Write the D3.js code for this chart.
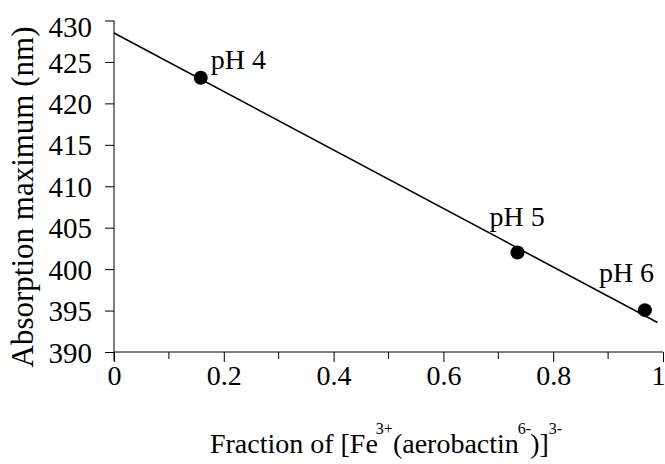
<!DOCTYPE html>
<html>
<head>
<meta charset="utf-8">
<script src="https://cdn.jsdelivr.net/npm/d3@7"></script>
<style>
  body { margin: 0; background: #fff; }
</style>
</head>
<body>
<div id="chart"></div>
<script>
// measured points: fraction of Fe(aerobactin) complex vs absorption max
const fraction = [0.158, 0.735, 0.967];
const absMax = [423.1, 402.0, 395.05];
const phLabels = ["pH 4", "pH 5", "pH 6"];

// linear fit drawn across the plot
const fitX = [0, 0.99];
const fitY = [428.5, 393.55];

const yTicks = [390, 395, 400, 405, 410, 415, 420, 425, 430];
const xMajor = [0, 0.2, 0.4, 0.6, 0.8, 1];
const xMinor = [0.1, 0.3, 0.5, 0.7, 0.9];

const width = 665, height = 464;
const plotL = 114, plotR = 663, plotT = 20.5, plotB = 352;
const serif = "Liberation Serif, Times New Roman, serif";

const svg = d3.select("#chart").append("svg")
    .attr("width", width)
    .attr("height", height)
    .style("font-family", serif);

const x = d3.scaleLinear().domain([0, 1]).range([plotL, plotR]);
const y = d3.scaleLinear().domain([390, 430]).range([plotB, plotT]);

// y axis
const yAxis = svg.append("g")
    .attr("transform", `translate(${plotL},0)`)
    .call(d3.axisLeft(y).tickValues(yTicks).tickSize(9).tickPadding(13).tickFormat(d3.format("d")));
yAxis.attr("font-family", null).attr("font-size", 29);
yAxis.select(".domain").attr("d", `M0,${plotT}V${plotB + 9}`);
yAxis.selectAll("text").attr("dy", d => d === 430 ? "0.55em" : "0.35em");

// x axis with minor ticks
const xAxis = svg.append("g")
    .attr("transform", `translate(0,${plotB})`)
    .call(d3.axisBottom(x).tickValues(xMajor).tickSize(10).tickPadding(3).tickFormat(d => d));
xAxis.attr("font-family", null).attr("font-size", 28);
xAxis.select(".domain").attr("d", `M${plotL},0H${plotR}`);
xAxis.selectAll(".tick text").filter(d => d === 1).attr("dx", -5);
xAxis.selectAll(".minor").data(xMinor).enter().append("line")
    .attr("class", "minor")
    .attr("x1", d => x(d)).attr("x2", d => x(d))
    .attr("y1", 0).attr("y2", 7)
    .attr("stroke", "#000");

svg.selectAll(".domain, .tick line").attr("stroke", "#000");

// fit line
svg.append("line")
    .attr("x1", x(fitX[0])).attr("y1", y(fitY[0]))
    .attr("x2", x(fitX[1])).attr("y2", y(fitY[1]))
    .attr("stroke", "#000")
    .attr("stroke-width", 1.6);

const pts = fraction.map((f, i) => ({ f, a: absMax[i], label: phLabels[i] }));

svg.selectAll(".pt").data(pts).enter().append("circle")
    .attr("class", "pt")
    .attr("cx", d => x(d.f))
    .attr("cy", d => y(d.a))
    .attr("r", 7)
    .attr("fill", "#000");

const labelDx = [10, -28, -46];
const labelDy = [-9, -27, -28];
svg.selectAll(".ph").data(pts).enter().append("text")
    .attr("class", "ph")
    .attr("x", (d, i) => x(d.f) + labelDx[i])
    .attr("y", (d, i) => y(d.a) + labelDy[i])
    .attr("font-size", 28)
    .text(d => d.label);

// axis titles
svg.append("text")
    .attr("transform", `translate(33,197) rotate(-90)`)
    .attr("text-anchor", "middle")
    .attr("font-size", 31)
    .text("Absorption maximum (nm)");

const xt = svg.append("text")
    .attr("x", 386)
    .attr("y", 453)
    .attr("text-anchor", "middle")
    .attr("font-size", 28);
xt.append("tspan").text("Fraction of [Fe");
xt.append("tspan").attr("dx", -2).attr("dy", -19).attr("font-size", 16).text("3+");
xt.append("tspan").attr("dy", 19).text("(aerobactin");
xt.append("tspan").attr("dx", -1).attr("dy", -19).attr("font-size", 16).text("6-");
xt.append("tspan").attr("dx", -1).attr("dy", 19).text(")]");
xt.append("tspan").attr("dy", -19).attr("font-size", 16).text("3-");
</script>
</body>
</html>
